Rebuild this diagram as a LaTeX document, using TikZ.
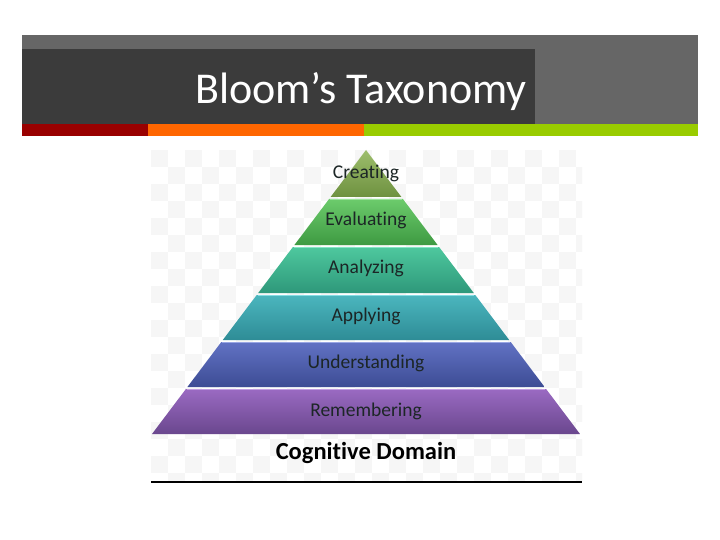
\documentclass[tikz,border=0pt]{standalone}
\usepackage{fontspec}
\setmainfont{Carlito}[Ligatures={NoCommon}]
\definecolor{hdrgray}{HTML}{666666}
\definecolor{hdrdark}{HTML}{3B3B3B}
\definecolor{strred}{HTML}{990000}
\definecolor{strorange}{HTML}{FF6600}
\definecolor{strgreen}{HTML}{99CC00}
\definecolor{chk}{HTML}{F6F6F6}
\definecolor{txtdark}{HTML}{1C2626}
\tikzset{
  layerlabel/.style={font=\fontsize{19.5}{22}\selectfont, text=txtdark, inner sep=0pt},
}
\begin{document}
\begin{tikzpicture}[x=1pt,y=-1pt]
\useasboundingbox (0,0) rectangle (720,540);
\fill[white] (0,0) rectangle (720,540);
% header
\fill[hdrgray] (22,35) rectangle (698,124);
\fill[hdrdark] (22,49) rectangle (535,124);
\fill[strred] (22,124) rectangle (148,136);
\fill[strorange] (148,124) rectangle (364,136);
\fill[strgreen] (364,124) rectangle (698,136);
\node[anchor=base east, text=white, font=\fontsize{44}{50}\selectfont, inner sep=0pt] (title) at (527,104) {Bloom’s Taxonomy};
% faint checker background
\begin{scope}
\clip (151,150) rectangle (582,481);
\foreach \i in {0,...,25}{
  \foreach \j in {0,...,19}{
    \pgfmathtruncatemacro{\myparity}{mod(\i+\j,2)}
    \ifnum\myparity=0
      \fill[chk] ({151+17*\i},{150+17*\j}) rectangle +(17,17);
    \fi
  }
}
\end{scope}
% pyramid layers
\newcommand{\mylayer}[7]{%
  \shade[top color=#5, bottom color=#6] ({366-#3},#1) -- ({366+#3},#1) -- ({366+#4},#2) -- ({366-#4},#2) -- cycle;
  \draw[#7, line width=1.4pt] ({366-#3+1},{#1+0.7}) -- ({366+#3-1},{#1+0.7});
}
\definecolor{c1t}{HTML}{9DBE6C}\definecolor{c1b}{HTML}{6E9140}
\definecolor{c2t}{HTML}{6CCB6C}\definecolor{c2b}{HTML}{3E9A42}\definecolor{c2h}{HTML}{9BE49B}
\definecolor{c3t}{HTML}{4EC89E}\definecolor{c3b}{HTML}{2E987A}\definecolor{c3h}{HTML}{86E6C6}
\definecolor{c4t}{HTML}{4BB6BE}\definecolor{c4b}{HTML}{2E8C96}\definecolor{c4h}{HTML}{86DDE4}
\definecolor{c5t}{HTML}{6172C4}\definecolor{c5b}{HTML}{3D4C94}\definecolor{c5h}{HTML}{98A6E4}
\definecolor{c6t}{HTML}{9A6AC2}\definecolor{c6b}{HTML}{6A478E}\definecolor{c6h}{HTML}{C29EE0}
\shade[top color=c1t, bottom color=c1b] (366,150) -- (401.4,197) -- (330.6,197) -- cycle;
\mylayer{199}{245}{36.9}{71.6}{c2t}{c2b}{c2h}
\mylayer{247}{293}{73.1}{107.8}{c3t}{c3b}{c3h}
\mylayer{295}{340}{109.3}{143.2}{c4t}{c4b}{c4h}
\mylayer{342}{387}{144.7}{178.6}{c5t}{c5b}{c5h}
\mylayer{389}{434}{180.1}{214}{c6t}{c6b}{c6h}
% labels
\node[layerlabel] (creating) at (366,173) {Creating};
\node[layerlabel] (evaluating) at (366,220) {Evaluating};
\node[layerlabel] (analyzing) at (366,268) {Analyzing};
\node[layerlabel] (applying) at (366,316) {Applying};
\node[layerlabel] (understanding) at (366,363) {Understanding};
\node[layerlabel] (remembering) at (366,411) {Remembering};
\node[font=\fontsize{24.5}{28}\selectfont\bfseries, text=black, inner sep=0pt] (domain) at (366,453) {Cognitive Domain};
% bottom rule
\draw[black, line width=1.1pt] (151,482) -- (582,482);
\end{tikzpicture}
\end{document}
